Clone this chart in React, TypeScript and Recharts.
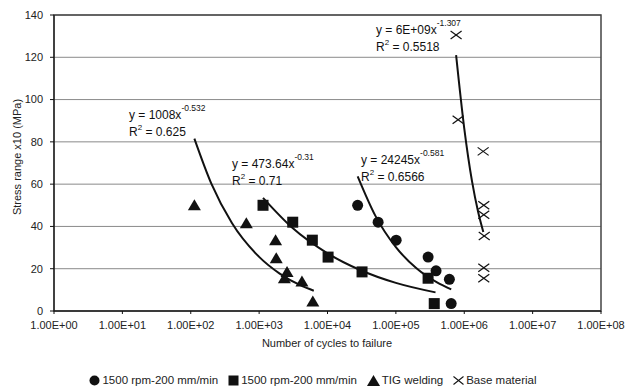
import React from 'react';
import { ComposedChart, Scatter, Line, XAxis, YAxis, CartesianGrid, ReferenceArea } from 'recharts';

const xTicks = [1, 10, 100, 1e3, 1e4, 1e5, 1e6, 1e7, 1e8];
const xTickLabels = ['1.00E+00', '1.00E+01', '1.00E+02', '1.00E+03', '1.00E+04', '1.00E+05', '1.00E+06', '1.00E+07', '1.00E+08'];
const yTicks = [0, 20, 40, 60, 80, 100, 120, 140];

const seriesNames = ['1500 rpm-200 mm/min', '1500 rpm-200 mm/min', 'TIG welding', 'Base material'];

const circlesX = [27600, 55000, 101000, 296000, 387000, 606000, 644000];
const circlesY = [50, 42, 33.5, 25.5, 19, 15, 3.5];

const squaresX = [1140, 3100, 6000, 10200, 32000, 296000, 364000];
const squaresY = [50, 42, 33.5, 25.5, 18.5, 15.5, 3.5];

const trianglesX = [113, 650, 1740, 1780, 2560, 2340, 4230, 6100];
const trianglesY = [50, 41.5, 33.5, 25, 18.5, 15.5, 14, 4.5];

const crossesX = [760000, 813000, 1890000, 1930000, 1930000, 1960000, 1930000, 1930000];
const crossesY = [130.5, 90.5, 75.5, 50, 45.5, 35.5, 20.5, 15.5];

const trendTigX = [113, 200, 400, 1000, 2000, 4000, 6300];
const trendTigY = [81.5, 60.2, 41.6, 25.6, 17.7, 12.2, 9.6];

const trendSquareX = [1140, 3000, 10000, 30000, 100000, 380000];
const trendSquareY = [53.5, 39.6, 27.3, 19.4, 13.3, 8.8];

const trendCircleX = [27600, 50000, 100000, 200000, 400000, 645000];
const trendCircleY = [63.7, 45.1, 30.2, 20.2, 13.5, 10.2];

const trendBaseX = [760000, 1000000, 1300000, 1600000, 1900000];
const trendBaseY = [121, 86.4, 61.3, 46.7, 37.4];

const toPoints = (xs: number[], ys: number[]) => xs.map((x, i) => ({ x, y: ys[i] }));

const FONT = '"Liberation Sans", Arial, sans-serif';

const CircleShape = (p: any) => <circle cx={p.cx} cy={p.cy} r={5.5} fill="#111" />;
const SquareShape = (p: any) => <rect x={p.cx - 5.5} y={p.cy - 5.5} width={11} height={11} fill="#111" />;
const TriangleShape = (p: any) => (
  <polygon points={`${p.cx},${p.cy - 6} ${p.cx - 6.5},${p.cy + 5} ${p.cx + 6.5},${p.cy + 5}`} fill="#111" />
);
const CrossShape = (p: any) => (
  <g stroke="#111" strokeWidth={1.2}>
    <line x1={p.cx - 5.5} y1={p.cy - 4} x2={p.cx + 5.5} y2={p.cy + 4} />
    <line x1={p.cx - 5.5} y1={p.cy + 4} x2={p.cx + 5.5} y2={p.cy - 4} />
  </g>
);

const Eq = ({ x, y, main, sup, r2 }: { x: number; y: number; main: string; sup: string; r2: string }) => (
  <g fontFamily={FONT} fill="#111">
    <text x={x} y={y} fontSize={12}>
      {main}
      <tspan fontSize={8.5} dy={-8}>{sup}</tspan>
    </text>
    <text x={x} y={y + 17} fontSize={12}>
      R<tspan fontSize={8} dy={-6}>2</tspan>
      <tspan dy={6}>{' = ' + r2}</tspan>
    </text>
  </g>
);

const legendMarkers = [
  <svg width={11} height={11}><circle cx={5.5} cy={5.5} r={5} fill="#111" /></svg>,
  <svg width={11} height={11}><rect x={0.5} y={0.5} width={10} height={10} fill="#111" /></svg>,
  <svg width={13} height={11}><polygon points="6.5,0 0,11 13,11" fill="#111" /></svg>,
  <svg width={11} height={9}><g stroke="#111" strokeWidth={1.1}><line x1={0.5} y1={0.5} x2={10.5} y2={8.5} /><line x1={0.5} y1={8.5} x2={10.5} y2={0.5} /></g></svg>,
];

export default function App() {
  return (
    <div style={{ position: 'absolute', left: 0, top: 0, width: 626, height: 389, background: '#fff', fontFamily: FONT }}>
      <ComposedChart width={626} height={389} margin={{ top: 15, right: 25, bottom: 0, left: 0 }}>
        <CartesianGrid vertical={false} stroke="#8a8a8a" strokeWidth={1} />
        <ReferenceArea x1={1} x2={1e8} y1={0} y2={140} fill="none" stroke="#444" strokeWidth={1.5} ifOverflow="visible" />
        <XAxis
          dataKey="x"
          type="number"
          scale="log"
          domain={[1, 1e8]}
          ticks={xTicks}
          allowDataOverflow
          height={78}
          tickSize={3}
          tickMargin={7}
          stroke="#111"
          tick={{ fill: '#222', fontSize: 11, fontFamily: FONT }}
          tickFormatter={(v: number) => xTickLabels[xTicks.indexOf(v)] ?? ''}
        />
        <YAxis
          dataKey="y"
          type="number"
          domain={[0, 140]}
          ticks={yTicks}
          width={54}
          tickSize={4}
          tickMargin={7}
          stroke="#111"
          tick={{ fill: '#222', fontSize: 11, fontFamily: FONT }}
        />
        <Line data={toPoints(trendTigX, trendTigY)} dataKey="y" type="monotone" stroke="#111" strokeWidth={2} dot={false} isAnimationActive={false} />
        <Line data={toPoints(trendSquareX, trendSquareY)} dataKey="y" type="monotone" stroke="#111" strokeWidth={2} dot={false} isAnimationActive={false} />
        <Line data={toPoints(trendCircleX, trendCircleY)} dataKey="y" type="monotone" stroke="#111" strokeWidth={2} dot={false} isAnimationActive={false} />
        <Line data={toPoints(trendBaseX, trendBaseY)} dataKey="y" type="monotone" stroke="#111" strokeWidth={2} dot={false} isAnimationActive={false} />
        <Scatter name={seriesNames[0]} data={toPoints(circlesX, circlesY)} dataKey="y" shape={CircleShape} isAnimationActive={false} />
        <Scatter name={seriesNames[1]} data={toPoints(squaresX, squaresY)} dataKey="y" shape={SquareShape} isAnimationActive={false} />
        <Scatter name={seriesNames[2]} data={toPoints(trianglesX, trianglesY)} dataKey="y" shape={TriangleShape} isAnimationActive={false} />
        <Scatter name={seriesNames[3]} data={toPoints(crossesX, crossesY)} dataKey="y" shape={CrossShape} isAnimationActive={false} />
      </ComposedChart>
      <svg width={626} height={389} style={{ position: 'absolute', left: 0, top: 0, pointerEvents: 'none' }}>
        <Eq x={129} y={119} main="y = 1008x" sup="-0.532" r2="0.625" />
        <Eq x={232} y={168} main="y = 473.64x" sup="-0.31" r2="0.71" />
        <Eq x={361} y={164} main="y = 24245x" sup="-0.581" r2="0.6566" />
        <Eq x={376} y={34} main="y = 6E+09x" sup="-1.307" r2="0.5518" />
        <text x={327} y={347} textAnchor="middle" fontSize={11} fontFamily={FONT} fill="#222">Number of cycles to failure</text>
        <text x={0} y={0} transform="translate(21,157) rotate(-90)" textAnchor="middle" fontSize={11} fontFamily={FONT} fill="#222">Stress range x10 (MPa)</text>
      </svg>
      <div style={{ position: 'absolute', left: 0, top: 374, width: 626, display: 'flex', justifyContent: 'center', alignItems: 'center', fontSize: 11.5, color: '#222', whiteSpace: 'pre' }}>
        {seriesNames.map((n, i) => (
          <div key={i} style={{ display: 'flex', alignItems: 'center', marginRight: i < 3 ? 10 : 0 }}>
            <span style={{ display: 'inline-flex', marginRight: 2 }}>{legendMarkers[i]}</span>
            <span>{n}</span>
          </div>
        ))}
      </div>
    </div>
  );
}
